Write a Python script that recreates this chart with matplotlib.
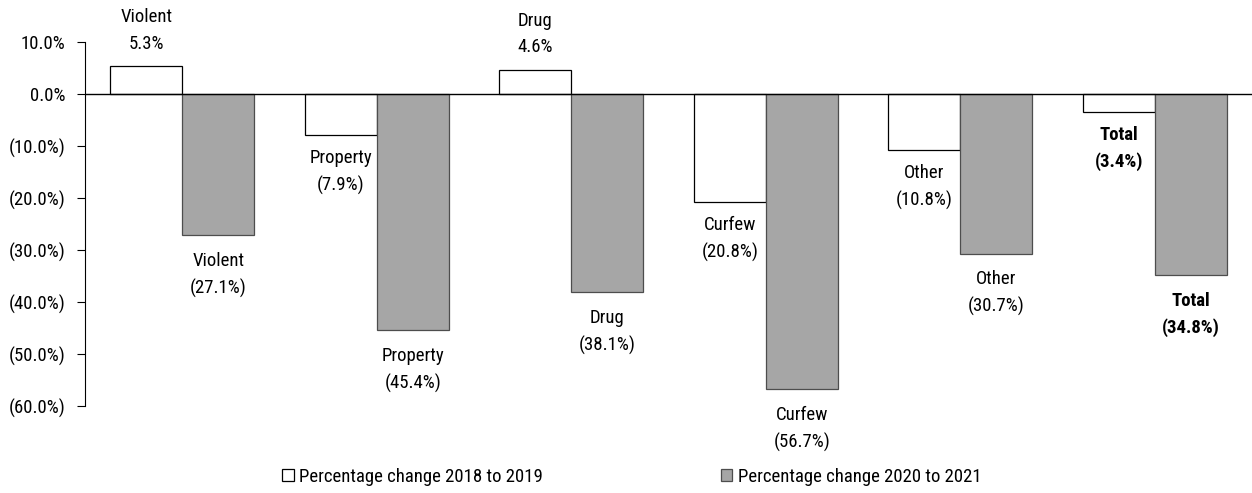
import matplotlib
matplotlib.use("Agg")
import matplotlib.pyplot as plt
from matplotlib import font_manager as fm
import numpy as np

categories = ["Violent", "Property", "Drug", "Curfew", "Other", "Total"]
change_2018_2019 = [5.3, -7.9, 4.6, -20.8, -10.8, -3.4]
change_2020_2021 = [-27.1, -45.4, -38.1, -56.7, -30.7, -34.8]
series_names = ["Percentage change 2018 to 2019", "Percentage change 2020 to 2021"]
yticks = [10, 0, -10, -20, -30, -40, -50, -60]

avail = {f.name for f in fm.fontManager.ttflist}
fam = None
for cand in ["Liberation Sans Narrow", "Roboto Condensed", "Open Sans Condensed", "DejaVu Sans"]:
    if cand in avail:
        fam = cand
        break
plt.rcParams['font.family'] = [fam, 'DejaVu Sans']

FS = 13.5

def fmt(v):
    return f"{v:.1f}%" if v >= 0 else f"({abs(v):.1f}%)"

fig = plt.figure(figsize=(12.52, 4.93), dpi=100)
ax = fig.add_axes([85/1252, 1-406/493, 1-85/1252, (406-42)/493])

x = np.arange(len(categories))
w = 0.37
b1 = ax.bar(x - w/2, change_2018_2019, w, color='white', edgecolor='black', linewidth=0.9, label=series_names[0])
b2 = ax.bar(x + w/2, change_2020_2021, w, color='#a6a6a6', edgecolor='#4d4d4d', linewidth=0.9, label=series_names[1])

ax.axhline(0, color='black', lw=1.0, zorder=3)
ax.set_xlim(-0.5, 5.5)
ax.set_ylim(-60, 10)
ax.set_yticks(yticks)
ax.set_yticklabels([fmt(t) for t in yticks], fontsize=FS)
ax.tick_params(axis='y', direction='out', length=6, width=0.8, pad=8)
ax.set_xticks([])
for s in ['top', 'right', 'bottom']:
    ax.spines[s].set_visible(False)
ax.spines['left'].set_bounds(-60, 10)
ax.spines['left'].set_linewidth(0.8)

for series, offs, gap in [(change_2018_2019, -w/2, 10), (change_2020_2021, w/2, 12)]:
    for i, (c, v) in enumerate(zip(categories, series)):
        bold = c == "Total"
        txt = f"{c}\n{fmt(v)}"
        if v >= 0:
            ax.annotate(txt, (x[i] + offs, v), xytext=(0, gap), textcoords='offset points',
                        ha='center', va='bottom', fontsize=FS, linespacing=1.6,
                        fontweight='bold' if bold else 'normal', annotation_clip=False)
        else:
            ax.annotate(txt, (x[i] + offs, v), xytext=(0, -gap), textcoords='offset points',
                        ha='center', va='top', fontsize=FS, linespacing=1.6,
                        fontweight='bold' if bold else 'normal', annotation_clip=False)

leg = fig.legend(handles=[b1, b2], loc='center', bbox_to_anchor=(632/1252, 1-477/493), ncol=2,
                 frameon=False, fontsize=FS, handlelength=0.6, handleheight=0.6,
                 handletextpad=0.3, columnspacing=9.5)

fig.savefig("out.png", dpi=100)
